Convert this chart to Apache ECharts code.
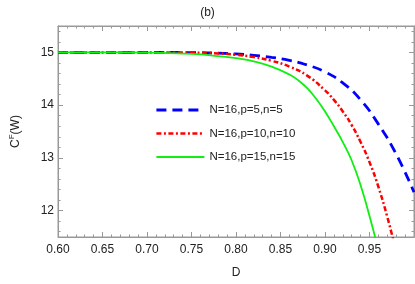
<!DOCTYPE html>
<html>
<head>
<meta charset="utf-8">
<script src="https://cdn.jsdelivr.net/npm/echarts@6/dist/echarts.min.js"></script>
<style>
html,body{margin:0;padding:0;background:#fff;}
#c{width:415px;height:284px;}
</style>
</head>
<body>
<div id="c"></div>
<script>
// ---- data ----
var seriesNames = ['N=16,p=5,n=5', 'N=16,p=10,n=10', 'N=16,p=15,n=15'];

var dBlue = [0.60, 0.65, 0.70, 0.75, 0.78, 0.80, 0.82, 0.84, 0.86, 0.88, 0.90, 0.92, 0.94, 0.96, 0.98, 1.00];
var cBlue = [15.0, 15.0, 15.0, 14.995, 14.985, 14.97, 14.945, 14.905, 14.85, 14.76, 14.63, 14.42, 14.10, 13.64, 13.07, 12.35];

var dRed = [0.60, 0.65, 0.70, 0.75, 0.78, 0.80, 0.82, 0.84, 0.86, 0.88, 0.90, 0.91, 0.92, 0.93, 0.94, 0.95, 0.96, 0.97, 0.98];
var cRed = [15.0, 15.0, 15.0, 14.995, 14.98, 14.955, 14.91, 14.84, 14.73, 14.56, 14.28, 14.10, 13.88, 13.62, 13.30, 12.92, 12.45, 11.88, 11.22];

var dGreen = [0.60, 0.65, 0.70, 0.75, 0.78, 0.80, 0.82, 0.84, 0.86, 0.87, 0.88, 0.89, 0.90, 0.91, 0.92, 0.93, 0.94, 0.95, 0.96];
var cGreen = [15.0, 15.0, 14.995, 14.97, 14.93, 14.89, 14.83, 14.73, 14.58, 14.47, 14.32, 14.12, 13.88, 13.60, 13.30, 12.95, 12.48, 11.90, 11.25];

var xTickLabels = ['0.60', '0.65', '0.70', '0.75', '0.80', '0.85', '0.90', '0.95'];
var yMajorTicks = [12, 13, 14, 15];
var yMinorTicks = [11.6, 11.8, 12.2, 12.4, 12.6, 12.8, 13.2, 13.4, 13.6, 13.8, 14.2, 14.4, 14.6, 14.8, 15.2, 15.4];

// ---- chart ----
function pairs(xs, ys) { return xs.map(function (x, i) { return [x, ys[i]]; }); }

var FONT = 'Liberation Sans';
var FRAME = '#999999';
var TXT = '#222222';
var lineStyles = [
  { color: '#0000ff', width: 2.8, type: [10, 6], cap: 'butt' },
  { color: '#ff0000', width: 2.5, type: [5, 2.5, 2, 2.5], cap: 'butt' },
  { color: '#11ee11', width: 1.8, type: 'solid' }
];

var yBase = { type: 'value', min: 11.5, max: 15.5, gridIndex: 0, splitLine: { show: false },
  axisLine: { show: true, lineStyle: { color: FRAME, width: 1 } } };

function yAxisDef(pos, major, showLabel, named) {
  var a = Object.assign({}, yBase, {
    position: pos,
    axisTick: { show: true, inside: true, length: major ? 5 : 2.5, lineStyle: { color: FRAME },
      customValues: major ? yMajorTicks : yMinorTicks },
    axisLabel: { show: showLabel, customValues: yMajorTicks, margin: 4, color: TXT, fontFamily: FONT, fontSize: 12,
      formatter: function (v) { return String(Math.round(v)); } }
  });
  if (named) {
    a.name = '{c|C}{s|F}{c|(W)}';
    a.nameLocation = 'middle';
    a.nameGap = 36;
    a.nameTextStyle = { rich: {
      c: { fontFamily: FONT, fontSize: 12, color: TXT, lineHeight: 14, verticalAlign: 'bottom' },
      s: { fontFamily: FONT, fontSize: 8, color: TXT, lineHeight: 14, verticalAlign: 'top', padding: [0, 0, 4, 0] }
    } };
  }
  return a;
}

function xAxisDef(pos, showLabel, named) {
  var a = {
    type: 'value', position: pos, min: 0.6, max: 1.0, interval: 0.05,
    splitLine: { show: false },
    axisLine: { show: true, lineStyle: { color: FRAME, width: 1 } },
    axisTick: { show: true, inside: true, length: 5, lineStyle: { color: FRAME } },
    minorTick: { show: true, splitNumber: 5, length: 2.5, lineStyle: { color: FRAME } },
    axisLabel: { show: showLabel, margin: 7, color: TXT, fontFamily: FONT, fontSize: 12, showMaxLabel: false,
      formatter: function (v) {
        var i = Math.round((v - 0.6) / 0.05);
        return (i >= 0 && i < xTickLabels.length) ? xTickLabels[i] : '';
      } }
  };
  if (named) {
    a.name = 'D';
    a.nameLocation = 'middle';
    a.nameGap = 30;
    a.nameTextStyle = { fontFamily: FONT, fontSize: 12, color: TXT };
  }
  return a;
}

var chart = echarts.init(document.getElementById('c'), null, { renderer: 'canvas' });
chart.setOption({
  animation: false,
  backgroundColor: '#fff',
  title: { text: '(b)', left: 'center', top: 2,
    textStyle: { fontFamily: FONT, fontSize: 12, fontWeight: 'normal', color: TXT } },
  grid: { left: 47, top: 26, right: 1, bottom: 45, show: true, borderColor: FRAME, borderWidth: 1, containLabel: false },
  xAxis: [ xAxisDef('bottom', true, true), xAxisDef('top', false, false) ],
  yAxis: [ yAxisDef('left', true, true, true), yAxisDef('left', false, false, false),
           yAxisDef('right', true, false, false), yAxisDef('right', false, false, false) ],
  legend: {
    show: true, left: 155, top: 104, padding: 0, orient: 'vertical', itemWidth: 48, itemHeight: 14, itemGap: 11.5,
    itemStyle: { opacity: 0, borderWidth: 0 },
    textStyle: { fontFamily: FONT, fontSize: 11.5, color: TXT },
    data: seriesNames.map(function (n, i) { return { name: n, lineStyle: lineStyles[i] }; })
  },
  series: seriesNames.map(function (n, i) {
    var xs = [dBlue, dRed, dGreen][i], ys = [cBlue, cRed, cGreen][i];
    return { name: n, type: 'line', data: pairs(xs, ys), smooth: 0.5, symbol: 'none', clip: true,
      color: lineStyles[i].color, lineStyle: lineStyles[i], z: 3 };
  })
});
</script>
</body>
</html>
